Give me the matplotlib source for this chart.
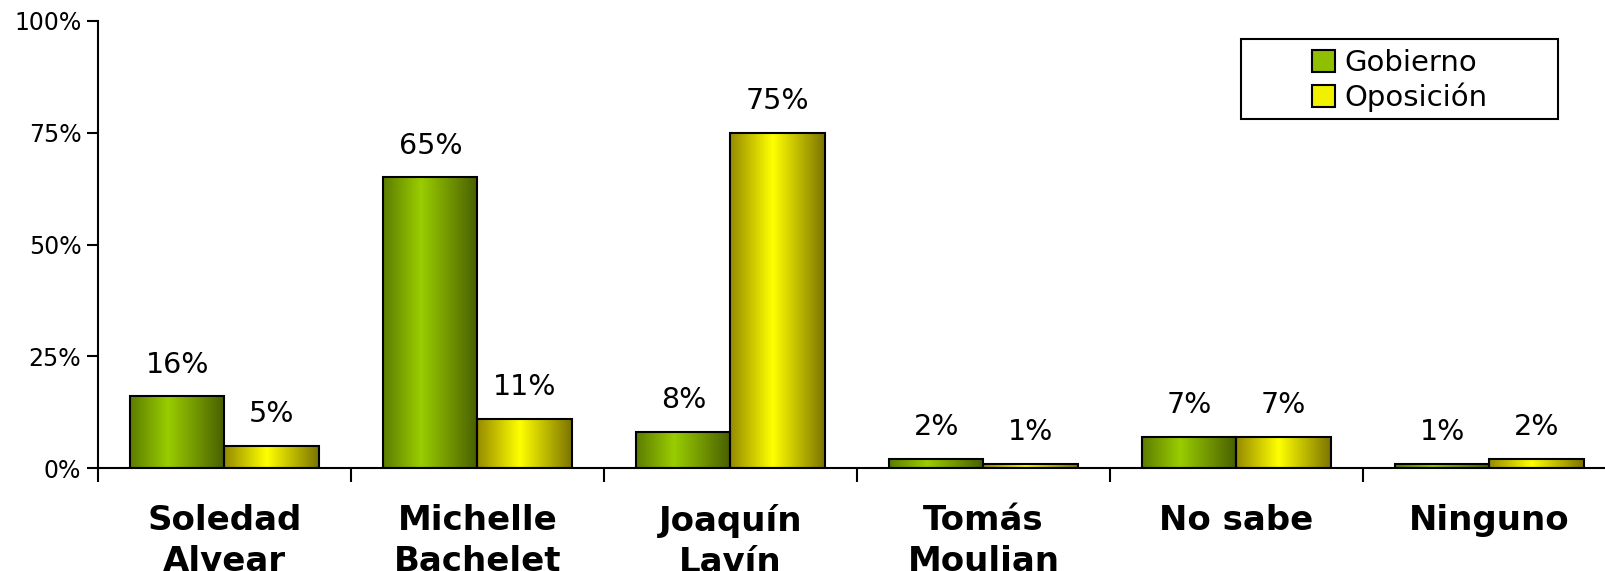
import numpy as np
import matplotlib
matplotlib.use("Agg")
import matplotlib.pyplot as plt
from matplotlib.colors import LinearSegmentedColormap
from matplotlib.patches import Patch, Rectangle

categories = ["Soledad\nAlvear", "Michelle\nBachelet", "Joaquín\nLavín",
              "Tomás\nMoulian", "No sabe", "Ninguno"]
gobierno = [16, 65, 8, 2, 7, 1]
oposicion = [5, 11, 75, 1, 7, 2]
yticks = [0, 25, 50, 75, 100]

cmap_gob = LinearSegmentedColormap.from_list(
    "gob", [(0, "#5c7c00"), (0.4, "#9acd00"), (1, "#485e00")])
cmap_opo = LinearSegmentedColormap.from_list(
    "opo", [(0, "#958a00"), (0.45, "#ffff00"), (1, "#7c7400")])

fig = plt.figure(figsize=(16.06, 5.71), dpi=100)
ax = fig.add_axes([98 / 1606, 103 / 571, 1518 / 1606, 447 / 571])

x = np.arange(len(categories))
w = 0.372
b1 = ax.bar(x - w / 2, gobierno, w, edgecolor="black", linewidth=1.5, facecolor="none", zorder=3)
b2 = ax.bar(x + w / 2, oposicion, w, edgecolor="black", linewidth=1.5, facecolor="none", zorder=3)

grad = np.linspace(0, 1, 256).reshape(1, -1)
for bars, cmap in ((b1, cmap_gob), (b2, cmap_opo)):
    for p in bars:
        x0, y0 = p.get_x(), p.get_y()
        im = ax.imshow(grad, cmap=cmap, aspect="auto", zorder=2,
                       extent=(x0, x0 + p.get_width(), y0, y0 + p.get_height()))
        im.set_clip_path(p)

for bars, vals in ((b1, gobierno), (b2, oposicion)):
    for p, v in zip(bars, vals):
        ax.text(p.get_x() + p.get_width() / 2, v + 4, f"{v}%",
                ha="center", va="bottom", fontsize=20.5)

ax.set_xlim(-0.5, len(categories) - 0.5)
ax.set_ylim(0, 100)
ax.set_yticks(yticks)
ax.set_yticklabels([f"{t}%" for t in yticks], fontsize=17)
ax.tick_params(axis="y", length=8, width=1.5, direction="out", pad=4)

ax.set_xticks(x)
ax.set_xticklabels(categories, fontsize=24.5, fontweight="bold", linespacing=1.3)
ax.tick_params(axis="x", which="major", length=0, pad=26)
ax.set_xticks(np.arange(len(categories) + 1) - 0.5, minor=True)
ax.tick_params(axis="x", which="minor", length=10, width=1.5, direction="out")
for lbl in ax.get_xticklabels():
    lbl.set_va("top")

for s in ("top", "right"):
    ax.spines[s].set_visible(False)
ax.spines["left"].set_linewidth(1.5)
ax.spines["bottom"].set_linewidth(1.5)

# legend frame drawn separately so the entries can sit centred inside it
ax.add_patch(Rectangle((1241 / 1606, (571 - 119) / 571), 317 / 1606, 80 / 571,
                       transform=fig.transFigure, facecolor="white", clip_on=False,
                       edgecolor="black", linewidth=1.5, zorder=4))
handles = [Patch(facecolor="#8fbf00", edgecolor="black", linewidth=1.5),
           Patch(facecolor="#f0f000", edgecolor="black", linewidth=1.5)]
leg = ax.legend(handles, ["Gobierno", "Oposición"], fontsize=21,
                loc="upper left", bbox_to_anchor=(1312 / 1606, 522 / 571),
                bbox_transform=fig.transFigure, frameon=False,
                borderpad=0, labelspacing=0.2, handlelength=0.8, handleheight=0.8,
                handletextpad=0.3, borderaxespad=0)
leg.set_zorder(5)

fig.savefig("out.png", dpi=100)
